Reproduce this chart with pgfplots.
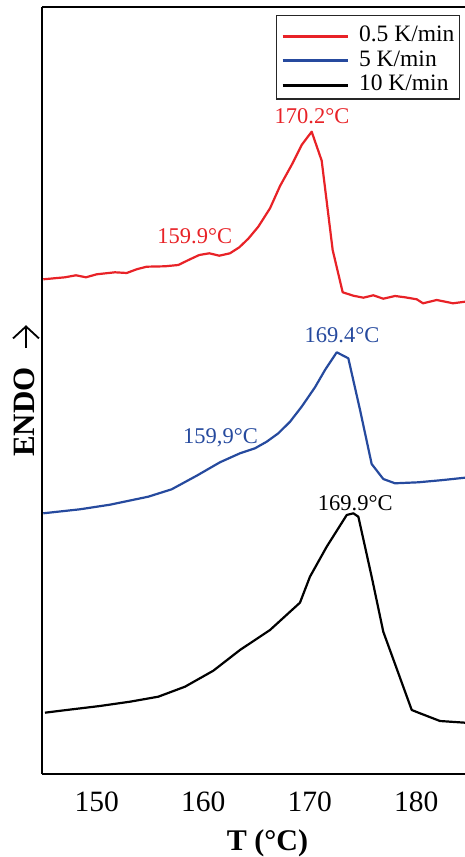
\documentclass[border=0pt]{standalone}
\usepackage{fontspec}
\setmainfont{Liberation Serif}
\usepackage{pgfplots}
\pgfplotsset{compat=1.18}
\usetikzlibrary{arrows.meta}
\definecolor{cred}{RGB}{232,34,39}
\definecolor{cblue}{RGB}{38,74,158}
\begin{document}
\begin{tikzpicture}
\useasboundingbox (-42pt,-83pt) rectangle (423pt,774pt);
\begin{axis}[
  scale only axis, width=423pt, height=767pt,
  xmin=144.87, xmax=184.57, ymin=-1, ymax=766,
  axis x line*=box, axis y line*=left,
  axis line style={line width=1.8pt},
  xtick={150,160,170,180}, ytick=\empty,
  xtick style={draw=none},
  /pgf/number format/assume math mode=true,
  xticklabel style={font=\fontsize{29.5}{30}\selectfont, anchor=base, yshift=-37pt},
  xlabel={T (°C)},
  xlabel style={font=\fontsize{30}{30}\selectfont\bfseries, at={(axis description cs:0.533,0)}, anchor=base, yshift=-76pt},
  ylabel={ENDO\hspace{18pt}\tikz[baseline=-9pt]\draw[line width=1.8pt,-{Straight Barb[length=12pt,width=26pt,line width=1.8pt]}] (0,0) -- (23pt,0);},
  ylabel style={font=\fontsize{31}{31}\selectfont\bfseries, at={(axis description cs:-0.01655,0.5)}, anchor=base},
  legend cell align=left,
  legend style={at={(axis description cs:0.9882,0.9896)}, anchor=north east, draw=black!85, line width=1.2pt,
    inner xsep=5pt, inner ysep=5pt, font=\fontsize{23.5}{23.5}\selectfont,
    nodes={inner sep=0pt, text height=21pt, text depth=3.5pt}, column sep=10pt, row sep=0pt},
  legend image code/.code={\draw[#1, line width=3pt] (0pt,-3.5pt) -- (65pt,-3.5pt);},
  every axis plot/.append style={line width=2.2pt, line join=round},
]
\addplot[cred] coordinates {
(144.99,493.7) (147.02,495.7) (148.06,497.7) (149.00,495.7) (150.00,498.7)
(151.72,500.7) (152.82,500) (153.75,503.7) (154.69,506.3) (156.41,506.7)
(157.66,508) (158.76,513.7) (159.63,518) (160.57,519.7) (161.51,517.3)
(162.51,519.7) (163.39,525.7) (164.23,534.3) (165.17,546.3) (166.27,564.7)
(167.21,587) (168.30,608) (169.24,628) (170.18,641.3) (171.12,612.3)
(172.15,523) (173.09,480.7) (174.09,477.3) (175.03,475.3) (175.96,477.7)
(176.90,474.3) (178.00,477) (178.94,475.7) (180.04,473.7) (180.63,469.7)
(181.92,473) (183.45,469.7) (184.57,471.3)
};
\addlegendentry{0.5 K/min}
\addplot[cblue] coordinates {
(144.99,259.7) (148.43,263.7) (151.25,268.3) (154.84,276.3) (157.04,283.7)
(159.39,297.3) (161.57,310.7) (163.45,319.7) (164.86,324.7) (165.96,331.3)
(167.05,339.7) (168.15,351.3) (169.24,366.3) (170.49,385.7) (171.43,403)
(172.53,420.7) (173.62,414.7) (174.72,363) (175.81,309) (176.90,294)
(178.00,289.7) (180.19,290.7) (182.54,293) (184.57,295.3)
};
\addlegendentry{5 K/min}
\addplot[black] coordinates {
(145.15,60.3) (147.18,63) (150.31,67) (153.13,71.3) (155.78,76.3)
(158.29,86.3) (160.95,102.3) (163.45,123) (166.27,143) (169.08,170.3)
(170.02,196.3) (171.59,226.3) (173.47,258) (174.09,259.7) (174.56,256.3)
(175.81,196.3) (176.90,141.3) (179.57,63) (180.35,59.7) (182.22,52)
(184.57,50.3)
};
\addlegendentry{10 K/min}
\node[cred, anchor=base, font=\fontsize{22.5}{22.5}\selectfont] at (axis cs:170.21,649) {170.2°C};
\node[cred, anchor=base, font=\fontsize{22.5}{22.5}\selectfont] at (axis cs:159.21,529.7) {159.9°C};
\node[cblue, anchor=base, font=\fontsize{22.5}{22.5}\selectfont] at (axis cs:173.03,430.3) {169.4°C};
\node[cblue, anchor=base, font=\fontsize{22.5}{22.5}\selectfont] at (axis cs:161.62,329) {159,9°C};
\node[black, anchor=base, font=\fontsize{22.5}{22.5}\selectfont] at (axis cs:174.27,262.3) {169.9°C};
\end{axis}
\end{tikzpicture}
\end{document}
